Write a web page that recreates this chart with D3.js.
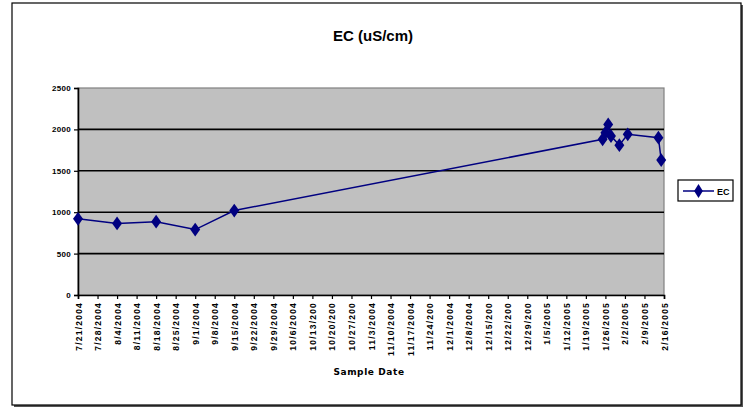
<!DOCTYPE html>
<html><head><meta charset="utf-8">
<script src="https://cdn.jsdelivr.net/npm/d3@7"></script>
<style>body{margin:0;background:#fff}svg{display:block}</style>
</head><body>
<svg id="c" width="746" height="410"></svg>
<script>
const dates = ["2004-07-21","2004-08-04","2004-08-18","2004-09-01","2004-09-15","2005-01-25","2005-01-26","2005-01-27","2005-01-28","2005-01-31","2005-02-03","2005-02-14","2005-02-15"];
const ecValues = [920,865,885,790,1020,1880,1960,2060,1920,1810,1940,1900,1630];
const tickDates = ["2004-07-21","2004-07-28","2004-08-04","2004-08-11","2004-08-18","2004-08-25","2004-09-01","2004-09-08","2004-09-15","2004-09-22","2004-09-29","2004-10-06","2004-10-13","2004-10-20","2004-10-27","2004-11-03","2004-11-10","2004-11-17","2004-11-24","2004-12-01","2004-12-08","2004-12-15","2004-12-22","2004-12-29","2005-01-05","2005-01-12","2005-01-19","2005-01-26","2005-02-02","2005-02-09","2005-02-16"];
const tickLabels = ["7/21/2004","7/28/2004","8/4/2004","8/11/2004","8/18/2004","8/25/2004","9/1/2004","9/8/2004","9/15/2004","9/22/2004","9/29/2004","10/6/2004","10/13/200","10/20/200","10/27/200","11/3/2004","11/10/2004","11/17/2004","11/24/200","12/1/2004","12/8/2004","12/15/200","12/22/200","12/29/200","1/5/2005","1/12/2005","1/19/2005","1/26/2005","2/2/2005","2/9/2005","2/16/2005"];
const yTicks = [0,500,1000,1500,2000,2500];

const parse = d3.utcParse("%Y-%m-%d");
const data = dates.map((d,i)=>({date:parse(d), v:ecValues[i]}));
const ticks = tickDates.map(parse);

const svg = d3.select("#c");
// frame with shadow
svg.append("rect").attr("x",14).attr("y",5).attr("width",729).attr("height",402).attr("fill","#555");
svg.append("rect").attr("x",12).attr("y",3).attr("width",729).attr("height",402).attr("fill","#fff").attr("stroke","#000").attr("stroke-width",1.2);

const L=78,R=664,T=88,B=295;
const x = d3.scaleUtc().domain([ticks[0], ticks[ticks.length-1]]).range([L,R]);
const y = d3.scaleLinear().domain([0,2500]).range([B,T]);

svg.append("rect").attr("x",L).attr("y",T).attr("width",R-L).attr("height",B-T)
  .attr("fill","#c0c0c0").attr("stroke","#808080").attr("stroke-width",1.2);

// gridlines
svg.append("g").selectAll("line").data(yTicks.filter(t=>t>0&&t<2500)).join("line")
  .attr("x1",L).attr("x2",R).attr("y1",d=>y(d)).attr("y2",d=>y(d))
  .attr("stroke","#000").attr("stroke-width",1.6);

// y axis
const yAxis = svg.append("g").attr("transform",`translate(${L},0)`)
  .call(d3.axisLeft(y).tickValues(yTicks).tickSize(4).tickPadding(3).tickFormat(d3.format("d")));
yAxis.select(".domain").attr("stroke","#000").attr("stroke-width",1.6);
yAxis.selectAll(".tick line").attr("stroke","#000").attr("stroke-width",1.2);
yAxis.selectAll("text").attr("font-family","Liberation Sans, Arial").attr("font-size",8).attr("font-weight","bold").attr("letter-spacing",0.3).attr("fill","#000");

// x axis
const xAxis = svg.append("g").attr("transform",`translate(0,${B})`)
  .call(d3.axisBottom(x).tickValues(ticks).tickSize(4).tickFormat((d,i)=>tickLabels[i]));
xAxis.select(".domain").attr("stroke","#000").attr("stroke-width",1.6);
xAxis.selectAll(".tick line").attr("stroke","#000").attr("stroke-width",1.2);
xAxis.selectAll("text").attr("font-family","Liberation Sans, Arial").attr("font-size",8.5).attr("font-weight","bold").attr("fill","#000")
  .attr("letter-spacing",1.2)
  .attr("text-anchor","end").attr("dy",null).attr("y",0)
  .attr("transform","translate(3,7) rotate(-90)");

// line
svg.append("path").datum(data)
  .attr("d", d3.line().x(d=>x(d.date)).y(d=>y(d.v)))
  .attr("fill","none").attr("stroke","#000080").attr("stroke-width",1.5);
const diamond = d3.symbol().type(d3.symbolDiamond).size(55);
svg.append("g").selectAll("path").data(data).join("path")
  .attr("d",diamond).attr("transform",d=>`translate(${x(d.date)},${y(d.v)}) scale(1.25,1)`)
  .attr("fill","#000080");

// title
svg.append("text").attr("x",373).attr("y",41).attr("text-anchor","middle")
  .attr("font-family","Liberation Sans Narrow, Liberation Sans, Arial").attr("font-size",15).attr("font-weight","bold").text("EC (uS/cm)");
// x title
svg.append("text").attr("x",369).attr("y",375).attr("text-anchor","middle")
  .attr("font-family","DejaVu Sans, Arial").attr("font-size",9).attr("font-weight","bold").attr("letter-spacing",0.6).text("Sample Date");

// legend
const lg = svg.append("g");
lg.append("rect").attr("x",678).attr("y",180).attr("width",55).attr("height",21).attr("fill","#fff").attr("stroke","#000").attr("stroke-width",1.2);
lg.append("line").attr("x1",683).attr("x2",714).attr("y1",191).attr("y2",191).attr("stroke","#000080").attr("stroke-width",1.5);
lg.append("path").attr("d",diamond).attr("transform","translate(698.5,191) scale(1.1,1)").attr("fill","#000080");
lg.append("text").attr("x",717).attr("y",194.5).attr("font-family","Liberation Sans, Arial").attr("font-size",9).attr("font-weight","bold").text("EC");
</script>
</body></html>
